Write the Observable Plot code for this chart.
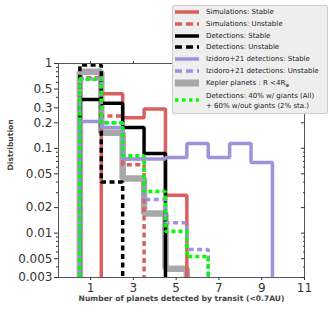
<!DOCTYPE html>
<html>
<head>
<meta charset="utf-8">
<script src="https://cdn.jsdelivr.net/npm/d3@7"></script>
<script src="https://cdn.jsdelivr.net/npm/@observablehq/plot@0.6"></script>
<style>
  html, body { margin: 0; padding: 0; background: #fff; }
  #wrap { position: relative; width: 331px; height: 314px; }
  #legend { position: absolute; left: 172px; top: 5px; }
</style>
</head>
<body>
<div id="wrap"></div>
<script>
// Distribution per number of transiting planets (bins centred on 1, 2, 3, ...)
const simStable   = [0, 0.44, 0.23, 0.29, 0.028];
const simUnstable = [0.68, 0.24, 0.064];
const detStable   = [0.377, 0.34, 0.176, 0.087];
const detUnstable = [0.96, 0.04];
const izStable    = [0.207, 0.176, 0.075, 0.075, 0.078, 0.114, 0.078, 0.114, 0.068];
const izUnstable  = [0.66, 0.2, 0.075, 0.025, 0.0133, 0.0064];
const kepler      = [0.8, 0.153, 0.044, 0.0171, 0.0038];
const mixed       = [0.65, 0.2, 0.082, 0.031, 0.0105, 0.0053];

const xTicks = [1, 3, 5, 7, 9, 11];
const yTicks = [1, 0.5, 0.3, 0.2, 0.1, 0.05, 0.02, 0.01, 0.005, 0.003];
const yTickLabels = ["1", "0.5", "0.3", "0.2", "0.1", "0.05", "0.02", "0.01", "0.005", "0.003"];
const yMinor = [0.004, 0.006, 0.007, 0.008, 0.009, 0.03, 0.04, 0.06, 0.07, 0.08, 0.09, 0.4, 0.6, 0.7, 0.8, 0.9];

const legendItems = [
  {label: "Simulations: Stable", color: "#d9605f", width: 3.5, dash: null},
  {label: "Simulations: Unstable", color: "#d9605f", width: 3.5, dash: "6,4"},
  {label: "Detections: Stable", color: "#000000", width: 3.5, dash: null},
  {label: "Detections: Unstable", color: "#000000", width: 3.5, dash: "6,4"},
  {label: "Izidoro+21 detections: Stable", color: "#9d93dc", width: 3.5, dash: null},
  {label: "Izidoro+21 detections: Unstable", color: "#9d93dc", width: 3.5, dash: "6,4"},
  {label: "Kepler planets : R <4R", sub: "⊕", color: "#a8a8a8", width: 7, dash: null},
  {label: "Detections: 40% w/ giants (All)", label2: " + 60% w/out giants (2% sta.)", color: "#00ff00", width: 3.5, dash: "3.5,3.5"}
];

const FLOOR = 1e-4;
function steps(vals) {
  const pts = [{x: 0.5, y: FLOOR}];
  vals.forEach((v, i) => pts.push({x: i + 0.5, y: v > 0 ? v : FLOOR}));
  pts.push({x: vals.length + 0.5, y: FLOOR});
  return pts;
}
function hist(vals, stroke, strokeWidth, dash) {
  return Plot.line(steps(vals), {
    x: "x", y: "y", curve: "step-after", stroke, strokeWidth,
    strokeDasharray: dash, strokeLinejoin: "miter", strokeLinecap: "butt", clip: true
  });
}

const chart = Plot.plot({
  width: 331,
  height: 314,
  marginLeft: 58,
  marginRight: 27,
  marginTop: 63,
  marginBottom: 37,
  style: {fontFamily: "DejaVu Sans", background: "#fff", color: "#333"},
  x: {domain: [-0.5, 11]},
  y: {type: "log", domain: [0.003, 1]},
  marks: [
    hist(kepler, "#a8a8a8", 6.5, null),
    hist(simStable, "#d9605f", 3.5, null),
    hist(simUnstable, "#d9605f", 3.5, "5,3.5"),
    hist(detStable, "#000000", 3.5, null),
    hist(detUnstable, "#000000", 3.5, "5,3.5"),
    hist(izStable, "#9d93dc", 3.5, null),
    hist(izUnstable, "#9d93dc", 3.5, "5,3.5"),
    hist(mixed, "#00ff00", 3.5, "4,3"),
    Plot.frame({stroke: "#555"}),
    Plot.axisX({ticks: xTicks, tickSize: 3, tickPadding: 3, fontSize: 12, label: null}),
    Plot.axisX({anchor: "top", ticks: xTicks, tickSize: 3, fill: "none", label: null}),
    Plot.axisY({ticks: yTicks, tickSize: 4, fill: "none", label: null}),
    Plot.axisY({ticks: yMinor, tickSize: 2, fill: "none", label: null}),
    Plot.axisY({anchor: "right", ticks: yTicks, tickSize: -4, fill: "none", label: null}),
    Plot.axisY({anchor: "right", ticks: yMinor, tickSize: -2, fill: "none", label: null}),
    Plot.text(yTicks, {y: d => d, text: (d, i) => yTickLabels[i], frameAnchor: "left", dx: -6, textAnchor: "end", fontSize: 12, fill: "#333"}),
    Plot.text(["Number of planets detected by transit (<0.7AU)"], {frameAnchor: "bottom", dy: 23, fontWeight: "bold", fontSize: 7.6, fill: "#444"}),
    Plot.text(["Distribution"], {frameAnchor: "left", dx: -48, rotate: -90, fontWeight: "bold", fontSize: 7.6, fill: "#444"})
  ]
});
document.getElementById("wrap").appendChild(chart);

// Legend overlay
const lg = d3.select("#wrap").append("svg")
  .attr("id", "legend").attr("width", 156).attr("height", 109)
  .style("font-family", "DejaVu Sans").style("font-size", "7px");
lg.append("rect").attr("x", 0.5).attr("y", 0.5).attr("width", 155).attr("height", 108)
  .attr("fill", "#eeeeee").attr("stroke", "#cccccc").attr("rx", 1.5);
const rowY = [7, 19, 31, 42, 54, 66, 78, 95];
legendItems.forEach((d, i) => {
  const y = rowY[i];
  lg.append("line").attr("x1", 3).attr("x2", 27).attr("y1", y).attr("y2", y)
    .attr("stroke", d.color).attr("stroke-width", d.width)
    .attr("stroke-dasharray", d.dash ? (i === 7 ? "3.5,3.5" : "7,4") : null);
  if (d.label2) {
    lg.append("text").attr("x", 34).attr("y", y - 4).attr("dy", "0.35em").attr("fill", "#222").text(d.label);
    lg.append("text").attr("x", 34).attr("y", y + 6).attr("dy", "0.35em").attr("fill", "#222").text(d.label2);
  } else {
    const t = lg.append("text").attr("x", 34).attr("y", y).attr("dy", "0.35em").attr("fill", "#222").text(d.label);
    if (d.sub) t.append("tspan").attr("font-size", "5px").attr("dy", "0.3em").text(d.sub);
  }
});
</script>
</body>
</html>
